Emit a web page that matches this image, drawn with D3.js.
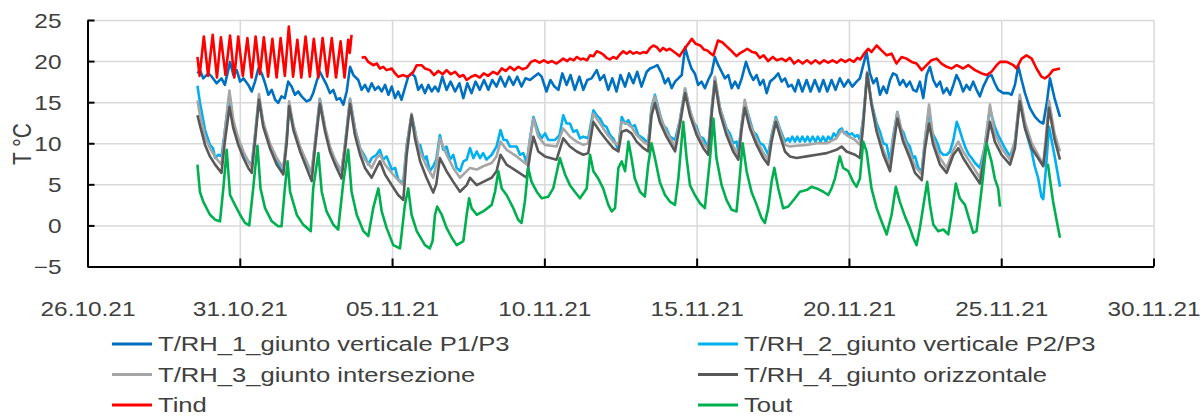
<!DOCTYPE html>
<html>
<head>
<meta charset="utf-8">
<script src="https://cdn.jsdelivr.net/npm/d3@7"></script>
<style>
  body { margin: 0; background: #fff; }
  svg text { font-family: "Liberation Sans", Arial, sans-serif; fill: #404040; }
</style>
</head>
<body>
<svg id="chart" width="1202" height="417"></svg>
<script>
// time = days since 26.10.21 00:00, value = °C
const seriesNames = ["T/RH_1_giunto verticale P1/P3", "T/RH_2_giunto verticale P2/P3",
  "T/RH_3_giunto intersezione", "T/RH_4_giunto orizzontale", "Tind", "Tout"];
const seriesColors = ["#0070C0", "#00B0F0", "#A6A6A6", "#595959", "#FF0000", "#00B050"];
const xTickDays = [0, 5, 10, 15, 20, 25, 30, 35];
const yTicks = [-5, 0, 5, 10, 15, 20, 25];

const rh1 = [[3.61,18.5],[3.69,18.9],[3.80,17.9],[3.97,18.5],[4.08,18.1],[4.24,17.3],[4.40,17.9],[4.51,17.1],[4.62,18.9],[4.68,19.9],[4.79,18.3],[4.90,18.9],[5.01,17.5],[5.12,17.9],[5.28,17.1],[5.39,16.3],[5.50,17.5],[5.61,19.1],[5.72,18.5],[5.83,17.3],[5.94,15.9],[6.05,16.5],[6.16,15.3],[6.26,14.9],[6.37,15.7],[6.48,15.5],[6.59,17.5],[6.70,16.9],[6.81,15.9],[6.92,16.3],[7.03,15.7],[7.19,15.1],[7.31,15.3],[7.41,16.1],[7.52,17.5],[7.63,18.7],[7.74,17.9],[7.85,17.1],[7.96,16.1],[8.07,16.5],[8.18,15.3],[8.29,15.5],[8.40,14.7],[8.51,16.3],[8.62,19.3],[8.73,18.3],[8.89,17.7],[9.00,16.5],[9.11,17.1],[9.22,16.3],[9.33,17.3],[9.44,16.5],[9.55,16.9],[9.66,16.3],[9.77,17.1],[9.88,15.9],[9.99,16.9],[10.10,15.5],[10.20,16.3],[10.31,15.3],[10.42,16.7],[10.53,18.1],[10.64,18.5],[10.75,18.1],[10.86,16.5],[10.97,17.1],[11.08,16.1],[11.19,17.1],[11.30,16.3],[11.41,16.9],[11.52,16.3],[11.65,18.1],[11.79,16.5],[11.92,17.5],[12.07,16.3],[12.21,17.3],[12.34,15.5],[12.47,17.3],[12.61,16.1],[12.74,17.5],[12.88,16.5],[13.02,17.7],[13.16,16.5],[13.29,17.7],[13.43,16.9],[13.56,18.1],[13.71,16.9],[13.84,18.1],[13.98,17.1],[14.11,18.1],[14.25,16.9],[14.38,17.9],[14.53,17.7],[14.66,18.1],[14.80,18.5],[14.91,18.1],[15.07,16.3],[15.20,17.7],[15.33,16.9],[15.46,16.5],[15.59,18.5],[15.73,17.1],[15.86,18.3],[16.00,16.5],[16.15,18.1],[16.28,16.5],[16.41,17.7],[16.55,17.9],[16.72,18.9],[16.83,17.7],[16.96,18.3],[17.10,16.5],[17.23,17.9],[17.37,16.3],[17.50,18.3],[17.65,16.9],[17.78,18.5],[17.92,17.3],[18.05,18.7],[18.19,16.9],[18.36,18.7],[18.47,19.1],[18.60,19.3],[18.71,19.5],[18.85,18.5],[18.96,17.3],[19.07,17.9],[19.18,16.7],[19.29,17.5],[19.40,17.9],[19.51,18.3],[19.62,21.7],[19.72,20.3],[19.83,19.1],[19.94,18.5],[20.05,17.1],[20.16,17.5],[20.27,16.7],[20.38,17.7],[20.49,18.5],[20.60,20.5],[20.71,19.5],[20.82,18.7],[20.93,17.9],[21.04,18.3],[21.15,16.7],[21.26,17.5],[21.37,16.7],[21.48,17.9],[21.62,19.9],[21.75,18.5],[21.86,17.7],[21.97,18.3],[22.08,17.1],[22.19,17.7],[22.30,16.1],[22.41,17.5],[22.54,17.9],[22.68,18.5],[22.79,17.5],[22.90,17.9],[23.01,16.9],[23.12,17.1],[23.23,16.3],[23.34,17.7],[23.47,16.3],[23.61,17.7],[23.74,16.3],[23.88,17.7],[24.03,16.3],[24.16,17.7],[24.29,16.3],[24.43,17.7],[24.56,16.5],[24.70,17.9],[24.84,16.9],[24.98,17.7],[25.11,16.9],[25.25,17.5],[25.36,17.9],[25.47,19.5],[25.58,21.1],[25.69,18.5],[25.80,17.3],[25.91,17.9],[26.02,15.9],[26.13,16.9],[26.24,16.1],[26.35,17.7],[26.45,18.5],[26.56,18.3],[26.67,17.1],[26.78,17.7],[26.89,16.9],[27.00,17.5],[27.11,16.5],[27.22,16.3],[27.33,17.5],[27.44,15.5],[27.55,18.3],[27.66,19.3],[27.77,17.7],[27.88,16.9],[27.99,17.5],[28.10,16.1],[28.21,16.7],[28.32,15.9],[28.43,17.1],[28.53,18.3],[28.64,17.5],[28.75,16.3],[28.86,17.1],[28.97,16.5],[29.08,17.5],[29.19,16.5],[29.30,15.7],[29.41,16.9],[29.57,18.1],[29.68,18.3],[29.79,17.3],[29.90,16.5],[30.07,16.1],[30.23,16.1],[30.34,15.9],[30.45,17.1],[30.56,19.4],[30.67,17.7],[30.78,16.1],[30.94,14.3],[31.11,13.2],[31.27,12.6],[31.38,12.4],[31.50,15.0],[31.60,17.9],[31.75,15.5],[31.93,13.2]];

const rh2 = [[3.61,17.0],[3.69,15.0],[3.86,11.6],[4.02,9.8],[4.12,9.4],[4.19,8.2],[4.30,8.6],[4.40,8.4],[4.51,11.5],[4.66,15.9],[4.79,12.2],[4.95,10.2],[5.05,9.6],[5.12,8.6],[5.28,7.8],[5.39,7.4],[5.50,11.0],[5.63,15.5],[5.77,12.4],[5.99,9.6],[6.21,8.0],[6.37,6.6],[6.43,6.8],[6.54,10.5],[6.62,14.6],[6.76,12.0],[6.98,9.4],[7.19,7.6],[7.36,6.4],[7.47,10.0],[7.63,15.4],[7.80,11.8],[7.96,9.4],[8.13,7.8],[8.34,6.6],[8.45,9.6],[8.62,15.4],[8.78,11.8],[8.95,9.4],[9.11,8.4],[9.22,7.4],[9.33,8.2],[9.49,8.6],[9.60,9.2],[9.70,8.0],[9.82,8.4],[9.99,6.8],[10.10,7.0],[10.20,5.6],[10.30,5.3],[10.37,5.4],[10.48,9.8],[10.64,13.4],[10.75,11.6],[10.85,9.4],[10.92,9.8],[11.05,8.0],[11.13,8.4],[11.24,6.6],[11.35,7.2],[11.45,8.0],[11.57,11.0],[11.68,9.2],[11.79,9.6],[11.90,8.0],[12.01,8.6],[12.12,7.0],[12.23,6.6],[12.34,7.8],[12.45,8.0],[12.56,9.4],[12.67,8.2],[12.78,9.0],[12.89,8.2],[12.99,8.8],[13.10,8.0],[13.27,8.6],[13.43,9.6],[13.56,11.6],[13.66,10.4],[13.76,10.4],[13.87,9.6],[14.09,9.6],[14.20,8.6],[14.31,8.8],[14.42,7.6],[14.53,10.6],[14.64,13.2],[14.80,11.4],[14.91,10.6],[15.02,11.2],[15.13,10.4],[15.35,10.4],[15.50,11.0],[15.62,13.4],[15.73,12.4],[15.84,12.4],[15.95,11.4],[16.06,11.6],[16.17,10.6],[16.28,10.8],[16.44,10.6],[16.61,14.0],[16.72,13.4],[16.83,13.0],[16.94,12.2],[17.04,12.0],[17.15,11.0],[17.26,10.6],[17.43,9.2],[17.54,13.2],[17.65,12.4],[17.76,12.8],[17.86,12.0],[17.97,12.2],[18.08,11.0],[18.25,10.6],[18.41,10.0],[18.52,14.4],[18.63,15.9],[18.79,13.6],[18.90,12.2],[19.01,11.8],[19.12,10.8],[19.29,10.4],[19.45,12.8],[19.62,16.6],[19.78,14.0],[19.89,12.6],[20.00,12.0],[20.11,10.8],[20.22,10.6],[20.38,9.4],[20.49,14.0],[20.60,17.9],[20.76,14.4],[20.98,11.8],[21.09,11.2],[21.20,10.0],[21.31,10.2],[21.37,9.0],[21.48,12.4],[21.58,15.0],[21.75,12.8],[21.86,11.4],[21.97,11.0],[22.08,10.0],[22.19,9.8],[22.35,8.6],[22.46,11.0],[22.60,13.2],[22.73,11.8],[22.90,10.2],[23.00,10.6],[23.06,10.2],[23.14,10.8],[23.23,10.2],[23.30,10.8],[23.39,10.2],[23.47,10.8],[23.56,10.2],[23.64,10.8],[23.72,10.2],[23.81,10.8],[23.90,10.2],[23.98,10.8],[24.07,10.2],[24.15,10.8],[24.24,10.2],[24.32,10.8],[24.41,10.4],[24.50,11.2],[24.59,10.8],[24.68,11.6],[24.76,11.8],[24.85,11.2],[24.92,11.4],[25.00,11.0],[25.10,11.2],[25.20,10.8],[25.28,11.0],[25.36,10.4],[25.47,13.0],[25.60,18.5],[25.74,15.0],[25.91,12.4],[26.02,11.4],[26.13,10.0],[26.24,9.8],[26.35,7.8],[26.45,10.8],[26.59,13.8],[26.70,11.8],[26.78,11.4],[26.89,10.2],[27.00,9.6],[27.10,8.2],[27.17,8.4],[27.28,7.0],[27.39,6.6],[27.50,10.5],[27.63,14.2],[27.72,11.4],[27.83,10.6],[27.93,9.8],[27.99,9.0],[28.10,8.6],[28.21,8.6],[28.32,9.0],[28.43,10.4],[28.54,12.6],[28.62,11.8],[28.72,10.6],[28.83,9.4],[28.94,8.6],[29.03,8.2],[29.14,7.6],[29.30,7.0],[29.46,9.6],[29.63,14.2],[29.79,12.0],[29.90,11.0],[30.01,10.2],[30.12,9.4],[30.29,8.4],[30.45,10.2],[30.61,15.4],[30.78,12.0],[30.89,10.4],[31.00,9.0],[31.10,7.2],[31.21,5.8],[31.32,3.5],[31.38,3.2],[31.47,7.0],[31.57,12.0],[31.75,8.5],[31.93,4.7]];

const rh3 = [[3.61,15.2],[3.69,13.5],[3.86,10.8],[4.02,9.4],[4.19,8.3],[4.40,7.4],[4.51,11.5],[4.66,16.4],[4.79,12.8],[4.95,10.6],[5.12,9.0],[5.28,7.8],[5.39,7.1],[5.50,11.0],[5.63,16.0],[5.77,12.6],[5.99,10.0],[6.21,8.2],[6.43,7.0],[6.54,10.8],[6.62,15.1],[6.76,12.2],[6.98,9.6],[7.19,7.8],[7.36,6.4],[7.47,10.2],[7.63,15.4],[7.80,12.0],[7.96,9.6],[8.13,8.0],[8.34,6.6],[8.45,9.8],[8.62,15.4],[8.78,11.8],[8.95,9.4],[9.11,8.0],[9.33,7.0],[9.49,8.2],[9.60,8.6],[9.77,7.4],[9.99,6.4],[10.20,5.5],[10.37,4.9],[10.48,9.6],[10.64,13.6],[10.75,11.4],[10.92,9.0],[11.13,7.2],[11.35,5.8],[11.45,7.4],[11.57,10.6],[11.79,8.6],[12.01,7.0],[12.23,5.8],[12.45,6.6],[12.56,7.0],[12.78,6.8],[12.99,7.2],[13.27,7.6],[13.43,8.4],[13.56,10.2],[13.76,9.2],[14.09,8.4],[14.42,7.4],[14.53,10.5],[14.64,13.0],[14.80,10.8],[15.02,9.8],[15.40,9.6],[15.62,11.8],[15.84,10.8],[16.06,10.2],[16.28,9.8],[16.44,10.0],[16.61,13.6],[16.83,12.4],[17.04,11.2],[17.26,10.2],[17.43,9.8],[17.54,12.6],[17.70,12.4],[17.86,12.0],[18.03,11.0],[18.25,10.2],[18.41,9.8],[18.52,14.2],[18.63,15.7],[18.79,13.4],[19.01,11.4],[19.29,9.6],[19.45,12.8],[19.62,16.7],[19.78,14.0],[20.00,11.6],[20.22,10.0],[20.38,9.2],[20.49,14.0],[20.60,18.1],[20.76,14.4],[20.98,11.6],[21.20,9.6],[21.37,8.6],[21.48,12.4],[21.58,15.3],[21.75,12.4],[21.97,10.4],[22.19,8.8],[22.35,8.0],[22.46,10.8],[22.60,13.0],[22.73,11.6],[22.90,9.8],[23.06,9.6],[23.28,9.7],[23.61,9.8],[23.94,10.0],[24.27,10.0],[24.59,10.6],[24.76,11.6],[24.92,11.0],[25.20,10.4],[25.36,9.8],[25.47,13.0],[25.60,18.7],[25.74,15.0],[25.91,11.8],[26.13,9.2],[26.35,7.2],[26.45,10.4],[26.59,13.8],[26.78,10.8],[27.00,8.8],[27.17,7.2],[27.39,6.2],[27.50,10.5],[27.63,14.7],[27.77,10.6],[27.99,8.2],[28.21,7.0],[28.43,9.2],[28.59,10.2],[28.75,9.0],[29.03,7.4],[29.30,5.8],[29.46,9.6],[29.63,14.7],[29.79,11.2],[30.01,9.4],[30.29,8.0],[30.45,10.2],[30.61,15.9],[30.78,12.6],[31.00,10.0],[31.21,8.6],[31.38,7.4],[31.47,11.0],[31.57,15.2],[31.75,11.2],[31.93,9.0]];

const rh4 = [[3.61,13.4],[3.69,12.2],[3.86,9.8],[4.02,8.4],[4.19,7.4],[4.40,6.4],[4.51,10.2],[4.66,14.4],[4.79,11.8],[4.95,9.8],[5.12,8.2],[5.28,7.0],[5.39,6.4],[5.50,10.2],[5.63,15.3],[5.77,12.0],[5.99,9.4],[6.21,7.4],[6.43,6.2],[6.54,10.0],[6.62,14.5],[6.76,11.6],[6.98,9.0],[7.19,7.0],[7.36,5.4],[7.47,9.4],[7.63,14.8],[7.80,11.4],[7.96,9.0],[8.13,7.4],[8.34,5.7],[8.45,9.0],[8.62,14.8],[8.78,11.0],[8.95,8.6],[9.11,7.0],[9.33,5.8],[9.49,7.0],[9.60,7.8],[9.77,6.2],[9.99,4.9],[10.20,3.7],[10.37,3.1],[10.48,8.6],[10.64,13.4],[10.75,10.6],[10.92,7.8],[11.13,5.8],[11.35,4.0],[11.45,5.0],[11.57,8.2],[11.79,6.6],[12.01,5.3],[12.23,4.1],[12.45,4.9],[12.56,5.8],[12.78,4.9],[12.99,5.3],[13.27,5.8],[13.43,6.6],[13.56,8.6],[13.76,7.4],[14.09,6.6],[14.42,5.8],[14.53,8.6],[14.64,10.8],[14.80,9.0],[15.02,8.4],[15.40,8.0],[15.62,10.6],[15.84,9.6],[16.06,9.0],[16.28,8.6],[16.44,8.8],[16.61,12.6],[16.83,11.4],[17.04,10.4],[17.26,9.4],[17.43,9.0],[17.54,11.4],[17.70,11.6],[17.86,11.2],[18.03,10.2],[18.25,9.4],[18.41,9.0],[18.52,13.4],[18.63,14.9],[18.79,12.6],[19.01,10.8],[19.29,9.0],[19.45,12.2],[19.62,16.1],[19.78,13.4],[20.00,11.0],[20.22,9.4],[20.38,8.6],[20.49,13.4],[20.60,17.5],[20.76,13.8],[20.98,11.0],[21.20,9.0],[21.37,8.0],[21.48,11.8],[21.58,14.3],[21.75,11.8],[21.97,9.8],[22.19,8.2],[22.35,7.4],[22.46,10.2],[22.60,12.6],[22.73,11.0],[22.90,9.0],[23.06,8.4],[23.28,8.2],[23.61,8.4],[23.94,8.6],[24.27,8.8],[24.59,9.2],[24.76,9.6],[24.92,9.0],[25.20,8.6],[25.36,8.2],[25.47,12.2],[25.60,18.5],[25.74,14.7],[25.91,11.4],[26.13,8.6],[26.35,6.6],[26.45,9.4],[26.59,13.0],[26.78,10.2],[27.00,8.2],[27.17,6.4],[27.39,5.5],[27.50,9.4],[27.63,12.4],[27.77,9.8],[27.99,7.4],[28.21,6.4],[28.43,8.6],[28.59,9.4],[28.75,8.2],[29.03,6.6],[29.30,5.1],[29.46,8.6],[29.63,12.6],[29.79,10.2],[30.01,8.6],[30.29,7.4],[30.45,9.4],[30.61,15.1],[30.78,11.8],[31.00,9.4],[31.21,8.2],[31.38,7.2],[31.47,10.0],[31.57,14.3],[31.75,10.5],[31.93,8.0]];

const tind = [[3.61,20.5],[3.68,18.2],[3.82,23.0],[3.96,18.2],[4.11,23.2],[4.25,18.0],[4.38,22.9],[4.53,18.3],[4.68,23.1],[4.82,18.0],[4.95,23.0],[5.10,18.2],[5.25,22.8],[5.39,18.0],[5.52,23.0],[5.66,18.4],[5.79,22.9],[5.93,18.1],[6.07,22.7],[6.21,18.0],[6.34,22.8],[6.48,18.2],[6.61,24.2],[6.75,18.1],[6.89,22.6],[7.02,18.0],[7.16,23.0],[7.30,18.1],[7.43,22.7],[7.58,18.0],[7.72,22.8],[7.87,18.1],[8.02,22.8],[8.16,18.0],[8.31,22.4],[8.44,18.0],[8.56,22.6],[8.61,21.0],[8.67,23.2],[8.80,null],[9.00,20.4],[9.11,20.5],[9.22,19.9],[9.38,19.5],[9.50,19.7],[9.60,19.1],[9.71,19.3],[9.82,18.9],[9.99,19.1],[10.10,18.5],[10.20,18.1],[10.37,18.3],[10.48,18.1],[10.59,18.3],[10.70,18.7],[10.81,19.5],[10.97,19.5],[11.08,19.1],[11.24,18.9],[11.38,18.3],[11.52,18.8],[11.66,18.4],[11.79,18.9],[11.93,18.4],[12.07,18.7],[12.21,18.1],[12.34,18.3],[12.45,17.7],[12.60,18.1],[12.74,18.3],[12.88,18.0],[13.01,18.5],[13.15,18.2],[13.32,18.7],[13.46,18.4],[13.60,19.1],[13.73,18.8],[13.87,19.3],[14.01,18.9],[14.15,19.3],[14.29,19.0],[14.42,19.2],[14.56,19.9],[14.70,20.1],[14.84,19.8],[14.98,20.1],[15.11,19.8],[15.25,20.0],[15.40,19.7],[15.51,20.0],[15.62,20.3],[15.75,20.0],[15.84,20.3],[15.97,20.1],[16.06,20.5],[16.19,20.2],[16.28,20.3],[16.40,20.1],[16.50,20.7],[16.61,20.6],[16.72,21.2],[16.85,21.0],[16.93,20.8],[17.04,20.4],[17.15,20.2],[17.26,20.5],[17.37,20.3],[17.48,20.8],[17.59,21.2],[17.70,20.9],[17.81,21.2],[17.92,20.9],[18.03,21.1],[18.14,20.9],[18.25,21.1],[18.36,21.0],[18.47,21.6],[18.58,21.9],[18.69,21.7],[18.80,21.2],[18.90,21.6],[19.01,21.3],[19.12,21.5],[19.23,21.2],[19.34,20.9],[19.44,20.6],[19.56,21.3],[19.70,22.0],[19.84,22.7],[19.97,22.1],[20.12,21.9],[20.24,21.4],[20.35,21.3],[20.47,20.9],[20.55,20.7],[20.70,22.5],[20.84,22.3],[21.01,21.7],[21.18,21.1],[21.31,20.6],[21.40,20.9],[21.54,21.2],[21.66,21.5],[21.83,21.1],[21.95,21.0],[22.07,20.4],[22.20,20.7],[22.35,20.0],[22.50,20.5],[22.63,20.1],[22.80,20.3],[22.93,20.0],[23.06,20.4],[23.20,19.7],[23.34,20.1],[23.48,19.7],[23.62,20.1],[23.76,19.7],[23.90,20.1],[24.04,19.7],[24.18,20.1],[24.32,19.8],[24.46,20.1],[24.60,19.8],[24.74,20.2],[24.88,19.9],[25.02,20.2],[25.16,19.9],[25.28,20.4],[25.37,20.2],[25.50,20.9],[25.63,21.5],[25.74,21.1],[25.91,21.9],[26.07,21.3],[26.24,20.7],[26.40,20.9],[26.56,19.7],[26.73,20.5],[26.89,20.3],[27.06,19.9],[27.22,19.7],[27.39,18.9],[27.55,19.5],[27.71,20.1],[27.88,20.3],[28.04,19.7],[28.21,19.3],[28.37,19.1],[28.54,19.5],[28.75,19.1],[28.92,19.5],[29.14,18.9],[29.36,18.5],[29.52,18.3],[29.68,18.7],[29.85,19.5],[29.96,19.9],[30.18,19.9],[30.40,19.5],[30.50,19.1],[30.67,20.3],[30.83,20.7],[31.00,20.3],[31.16,19.1],[31.32,18.1],[31.43,17.9],[31.55,18.2],[31.70,18.9],[31.93,19.1]];

const tout = [[3.61,7.4],[3.69,4.1],[3.80,2.9],[4.02,1.3],[4.19,0.7],[4.35,0.5],[4.46,4.5],[4.57,9.2],[4.68,3.7],[4.84,2.5],[5.01,1.3],[5.17,0.3],[5.31,0.0],[5.44,4.5],[5.58,9.7],[5.68,4.5],[5.83,2.1],[6.05,0.5],[6.26,-0.1],[6.37,-0.1],[6.48,4.5],[6.57,7.8],[6.65,4.1],[6.87,1.3],[7.08,0.1],[7.33,-0.7],[7.41,4.5],[7.58,8.8],[7.69,4.1],[7.85,1.7],[8.07,0.1],[8.23,-0.5],[8.40,5.3],[8.56,9.2],[8.67,4.1],[8.84,1.3],[9.06,-0.7],[9.22,-1.3],[9.38,2.1],[9.55,4.5],[9.66,1.7],[9.82,-0.3],[10.04,-2.4],[10.26,-2.8],[10.42,2.5],[10.53,4.5],[10.64,1.3],[10.81,-0.7],[11.08,-2.4],[11.24,-2.8],[11.33,-1.9],[11.41,1.3],[11.48,2.3],[11.63,1.3],[11.79,-0.3],[11.96,-1.5],[12.12,-2.4],[12.34,-1.9],[12.45,1.3],[12.53,3.3],[12.61,2.1],[12.78,1.3],[12.99,1.7],[13.27,2.5],[13.38,4.1],[13.49,6.6],[13.60,4.5],[13.76,3.7],[13.98,2.1],[14.14,0.7],[14.25,0.3],[14.36,2.9],[14.47,7.0],[14.58,5.3],[14.75,4.1],[14.91,3.3],[15.13,3.5],[15.29,4.5],[15.51,8.2],[15.68,6.2],[15.84,4.9],[16.00,4.1],[16.17,3.3],[16.39,4.5],[16.50,8.6],[16.61,6.6],[16.77,5.7],[16.93,4.5],[17.10,2.5],[17.21,1.7],[17.32,2.1],[17.43,7.0],[17.54,7.8],[17.65,6.6],[17.76,10.2],[17.86,8.2],[17.97,5.7],[18.14,4.1],[18.30,3.5],[18.41,7.4],[18.52,10.0],[18.63,8.2],[18.79,5.3],[18.96,3.7],[19.12,2.9],[19.29,2.5],[19.40,5.7],[19.56,12.6],[19.67,8.2],[19.78,4.9],[19.94,3.7],[20.11,2.7],[20.27,2.1],[20.44,8.2],[20.55,13.0],[20.65,8.2],[20.82,4.9],[20.98,3.1],[21.15,1.9],[21.31,1.7],[21.42,6.1],[21.51,10.0],[21.64,6.6],[21.80,4.1],[21.97,2.5],[22.13,0.9],[22.24,0.3],[22.35,2.1],[22.46,5.3],[22.55,7.0],[22.68,4.5],[22.84,2.1],[23.01,2.3],[23.23,3.3],[23.39,4.1],[23.61,4.3],[23.77,4.7],[23.94,4.5],[24.16,4.1],[24.32,3.7],[24.43,4.5],[24.54,5.7],[24.70,8.4],[24.81,7.0],[24.98,6.6],[25.14,5.3],[25.25,4.7],[25.36,5.7],[25.47,10.2],[25.58,9.0],[25.74,4.5],[25.91,2.1],[26.07,0.5],[26.24,-1.1],[26.40,1.3],[26.54,4.7],[26.67,2.9],[26.84,1.1],[27.00,-0.3],[27.11,-1.5],[27.22,-2.4],[27.33,-0.3],[27.50,3.7],[27.57,5.3],[27.66,2.5],[27.77,0.1],[27.93,-0.7],[28.10,-0.5],[28.26,-1.1],[28.37,1.3],[28.51,5.1],[28.64,3.3],[28.81,2.5],[28.97,0.5],[29.08,-0.9],[29.19,-0.7],[29.36,4.5],[29.52,10.0],[29.68,7.8],[29.79,5.7],[29.90,4.5],[29.96,2.3],[30.50,null],[31.53,7.5],[31.70,3.0],[31.85,0.0],[31.93,-1.5]];

const allSeries = [rh1, rh2, rh3, rh4, tind, tout];

const start = Date.UTC(2021, 9, 26);
const day = d => new Date(start + d * 864e5);

const W = 1202, H = 417;
const plot = { left: 87.5, right: 1153.5, top: 20, bottom: 266.5 };
const stretch = 1.22; // labels in the original are drawn a bit wide

const svg = d3.select("#chart");
svg.append("rect").attr("width", W).attr("height", H).attr("fill", "#fff");

const x = d3.scaleUtc().domain([day(0), day(35)]).range([plot.left, plot.right]);
const y = d3.scaleLinear().domain([-5, 25]).range([plot.bottom, plot.top]);

// grid
svg.append("g")
  .attr("transform", `translate(${plot.left},0)`)
  .call(d3.axisLeft(y).tickValues(yTicks).tickSize(-(plot.right - plot.left)).tickFormat(""))
  .call(g => g.select(".domain").remove())
  .selectAll("line").attr("stroke", "#d9d9d9").attr("stroke-width", 1.5);

svg.append("g")
  .attr("transform", `translate(0,${plot.bottom})`)
  .call(d3.axisBottom(x).tickValues(xTickDays.map(day)).tickSize(-(plot.bottom - plot.top)).tickFormat(""))
  .call(g => g.select(".domain").remove())
  .selectAll("line").attr("stroke", "#d9d9d9").attr("stroke-width", 1.5);

// lines
const line = d3.line()
  .defined(d => d[1] != null)
  .x(d => x(day(d[0])))
  .y(d => y(d[1]));

svg.append("g").selectAll("path")
  .data(allSeries)
  .join("path")
  .attr("d", line)
  .attr("fill", "none")
  .attr("stroke", (d, i) => seriesColors[i])
  .attr("stroke-width", 2.6)
  .attr("stroke-linejoin", "round");

// axes
const yAxis = svg.append("g")
  .attr("transform", `translate(${plot.left},0)`)
  .call(d3.axisLeft(y).tickValues(yTicks).tickSize(-7).tickSizeOuter(0));
yAxis.select(".domain").attr("stroke", "#000").attr("stroke-width", 2);
yAxis.selectAll(".tick line").attr("stroke", "#000").attr("stroke-width", 2);
yAxis.selectAll(".tick text")
  .attr("x", null).attr("dy", "0.35em")
  .attr("transform", `translate(-26,0) scale(${stretch},1)`)
  .attr("text-anchor", "end")
  .style("font-size", "20px").attr("fill", "#404040");

const xAxis = svg.append("g")
  .attr("transform", `translate(0,${plot.bottom})`)
  .call(d3.axisBottom(x).tickValues(xTickDays.map(day)).tickSize(-8).tickSizeOuter(0)
    .tickFormat(d3.utcFormat("%d.%m.%y")));
xAxis.select(".domain").attr("stroke", "#000").attr("stroke-width", 2);
xAxis.selectAll(".tick line").attr("stroke", "#000").attr("stroke-width", 2);
xAxis.selectAll(".tick text")
  .attr("y", null).attr("dy", null)
  .attr("transform", `translate(0,49) scale(${stretch},1)`)
  .attr("text-anchor", "middle")
  .style("font-size", "20px").attr("fill", "#404040");

// axis title
svg.append("text")
  .attr("transform", `translate(31,144) scale(${stretch},1) rotate(-90)`)
  .attr("text-anchor", "middle")
  .style("font-size", "21px")
  .text("T °C");

// legend
const legendColX = [112, 698];
const legendRowY = [344, 374.5, 405];
const legend = svg.append("g").selectAll("g")
  .data(seriesNames)
  .join("g")
  .attr("transform", (d, i) => `translate(${legendColX[i % 2]},${legendRowY[Math.floor(i / 2)]})`);
legend.append("line")
  .attr("x1", 0).attr("x2", 40)
  .attr("stroke", (d, i) => seriesColors[i])
  .attr("stroke-width", 3);
legend.append("text")
  .attr("transform", `translate(46,0) scale(${stretch},1)`)
  .attr("dy", "0.35em")
  .style("font-size", "21px")
  .text(d => d);
</script>
</body>
</html>
